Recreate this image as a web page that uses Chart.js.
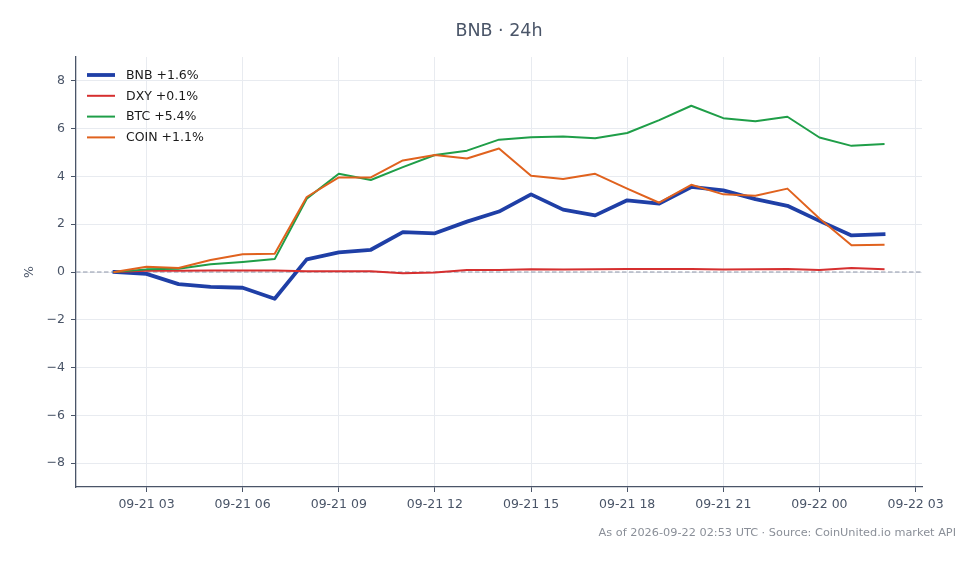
<!DOCTYPE html>
<html>
<head>
<meta charset="utf-8">
<script src="https://cdn.jsdelivr.net/npm/chart.js@4.4.1/dist/chart.umd.min.js"></script>
<style>
  html, body { margin: 0; padding: 0; background: #ffffff; }
  #wrap { width: 980px; height: 564px; }
</style>
</head>
<body>
<div id="wrap"><canvas id="c" width="980" height="564"></canvas></div>
<script>
// ---- data (hours since 2026-09-21 00:00 UTC) ----
const hours = [2, 3, 4, 5, 6, 7, 8, 9, 10, 11, 12, 13, 14, 15, 16, 17, 18, 19, 20, 21, 22, 23, 24, 25, 26];
const bnb  = [0, -0.08, -0.51, -0.62, -0.66, -1.12, 0.53, 0.82, 0.93, 1.67, 1.62, 2.11, 2.53, 3.25, 2.61, 2.37, 3.00, 2.86, 3.56, 3.42, 3.05, 2.77, 2.14, 1.53, 1.58];
const dxy  = [0, 0.05, 0.05, 0.06, 0.06, 0.06, 0.03, 0.03, 0.03, -0.05, -0.02, 0.08, 0.08, 0.12, 0.10, 0.12, 0.13, 0.13, 0.13, 0.10, 0.12, 0.13, 0.08, 0.17, 0.12];
const btc  = [0, 0.11, 0.14, 0.32, 0.42, 0.54, 3.07, 4.11, 3.85, 4.39, 4.90, 5.08, 5.54, 5.64, 5.67, 5.60, 5.82, 6.36, 6.96, 6.44, 6.31, 6.50, 5.63, 5.28, 5.36];
const coin = [0, 0.22, 0.17, 0.50, 0.74, 0.76, 3.14, 3.96, 3.96, 4.67, 4.90, 4.75, 5.17, 4.03, 3.89, 4.11, 3.49, 2.90, 3.65, 3.25, 3.19, 3.49, 2.24, 1.12, 1.14];
const seriesLabels = ["BNB +1.6%", "DXY +0.1%", "BTC +5.4%", "COIN +1.1%"];
const xTickHours = [3, 6, 9, 12, 15, 18, 21, 24, 27];
const xTickLabels = ["09-21 03", "09-21 06", "09-21 09", "09-21 12", "09-21 15", "09-21 18", "09-21 21", "09-22 00", "09-22 03"];
const yTicks = [-8, -6, -4, -2, 0, 2, 4, 6, 8];
const titleText = "BNB \u00b7 24h";
const footerText = "As of 2026-09-22 02:53 UTC \u00b7 Source: CoinUnited.io market API";

const FONT = "'DejaVu Sans', 'Liberation Sans', sans-serif";
const TXT = "#4a5568";

function pts(arr) { return arr.map((v, i) => ({ x: hours[i], y: v })); }

const colors = ["#1f3fa6", "#d62f2f", "#1f9e48", "#e0621e"];
const widths = [3.8, 2, 2, 2];
const seriesData = [bnb, dxy, btc, coin];

const datasets = seriesData.map((arr, i) => ({
  label: seriesLabels[i],
  data: pts(arr),
  borderColor: colors[i],
  backgroundColor: colors[i],
  borderWidth: widths[i],
  pointRadius: 0,
  tension: 0,
  borderJoinStyle: 'round',
  borderCapStyle: 'square',
  order: 4 - i
}));

const extras = {
  id: 'extras',
  beforeDatasetsDraw(chart) {
    const { ctx, chartArea, scales } = chart;
    const y0 = scales.y.getPixelForValue(0);
    ctx.save();
    ctx.strokeStyle = "#8e96a8";
    ctx.lineWidth = 1;
    ctx.setLineDash([4.5, 2.5]);
    ctx.beginPath();
    ctx.moveTo(chartArea.left, y0);
    ctx.lineTo(chartArea.right, y0);
    ctx.stroke();
    ctx.restore();
  },
  afterDraw(chart) {
    const { ctx, chartArea } = chart;
    ctx.save();
    // title
    ctx.fillStyle = TXT;
    ctx.font = "17.5px " + FONT;
    ctx.textAlign = "center";
    ctx.textBaseline = "middle";
    ctx.fillText(titleText, (chartArea.left + chartArea.right) / 2, 31.5);
    // footer
    ctx.fillStyle = "#8a8f98";
    ctx.font = "11.3px " + FONT;
    ctx.textAlign = "right";
    ctx.fillText(footerText, 956, 533.5);
    // legend
    chart.data.datasets.forEach((ds, i) => {
      const yy = 75 + i * 20.8;
      ctx.strokeStyle = ds.borderColor;
      ctx.lineWidth = ds.borderWidth;
      ctx.lineCap = 'butt';
      ctx.beginPath();
      ctx.moveTo(87, yy);
      ctx.lineTo(115, yy);
      ctx.stroke();
      ctx.fillStyle = "#1a1a1a";
      ctx.font = "12.5px " + FONT;
      ctx.textAlign = "left";
      ctx.textBaseline = "middle";
      ctx.fillText(ds.label, 126, yy + 0.5);
    });
    ctx.restore();
  }
};

new Chart(document.getElementById('c'), {
  type: 'line',
  data: { datasets },
  plugins: [extras],
  options: {
    responsive: false,
    animation: false,
    devicePixelRatio: 1,
    layout: { padding: { top: 57, right: 58, bottom: 0, left: 0 } },
    plugins: {
      legend: { display: false },
      title: { display: false },
      tooltip: { enabled: false }
    },
    scales: {
      x: {
        type: 'linear',
        min: 0.8,
        max: 27.2,
        afterBuildTicks(scale) { scale.ticks = xTickHours.map(v => ({ value: v })); },
        afterFit(scale) { scale.height = 77; },
        ticks: {
          autoSkip: false,
          maxRotation: 0,
          padding: 5,
          color: TXT,
          font: { family: FONT, size: 12.5 },
          callback: (v, i) => xTickLabels[i]
        },
        grid: { color: "#e8ebf0", lineWidth: 1, tickColor: "#4a5568", tickLength: 5, tickWidth: 1 },
        border: { display: true, color: "#4a5568", width: 1.3 }
      },
      y: {
        type: 'linear',
        min: -9,
        max: 9,
        afterBuildTicks(scale) { scale.ticks = yTicks.map(v => ({ value: v })); },
        afterFit(scale) { scale.width = 76; },
        ticks: {
          padding: 6,
          color: TXT,
          font: { family: FONT, size: 12.5 },
          callback: (v) => (v < 0 ? "\u2212" + Math.abs(v) : String(v))
        },
        title: {
          display: true,
          text: "%",
          color: TXT,
          font: { family: FONT, size: 12.5 },
          padding: { top: 22, bottom: 0 }
        },
        grid: { color: "#e8ebf0", lineWidth: 1, tickColor: "#4a5568", tickLength: 5, tickWidth: 1 },
        border: { display: true, color: "#4a5568", width: 1.3 }
      }
    }
  }
});
</script>
</body>
</html>
